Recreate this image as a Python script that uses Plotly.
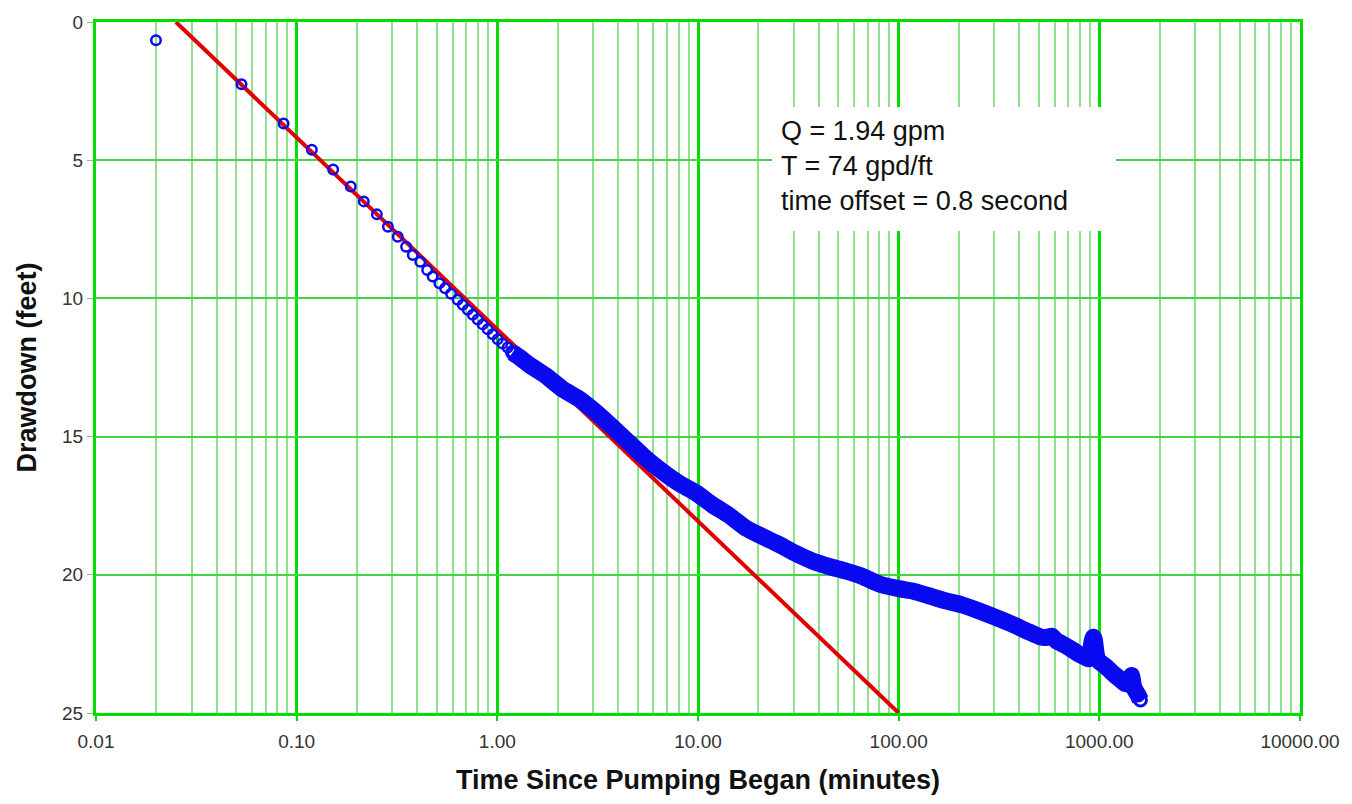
import plotly.graph_objects as go

# ---- data ----
early_time = [0.0199, 0.0531, 0.0861, 0.119, 0.152, 0.186, 0.216, 0.251, 0.285, 0.319,
              0.351, 0.379, 0.413, 0.447, 0.476, 0.514, 0.549, 0.588, 0.634, 0.672,
              0.712, 0.754, 0.798, 0.845, 0.895, 0.948, 1.004, 1.06, 1.125, 1.19]
early_drawdown = [0.66, 2.25, 3.67, 4.62, 5.34, 5.95, 6.49, 6.96, 7.41, 7.77,
                  8.13, 8.43, 8.67, 8.97, 9.21, 9.45, 9.63, 9.83, 10.05, 10.23,
                  10.41, 10.59, 10.76, 10.94, 11.12, 11.30, 11.48, 11.63, 11.78, 11.96]

dense_time = [1.19, 1.30, 1.44, 1.75, 2.11, 2.56, 3.10, 3.75, 4.5, 5.5, 6.6,
              8.04, 9.8, 11.8, 14.3, 17.3, 21.0, 25.3, 30.5, 37.1, 45.0, 54.3, 66.0,
              80.6, 100, 116, 140, 171, 205, 250, 300, 366, 440, 510, 550, 579, 610,
              700, 787, 850, 882, 905, 920, 933, 945, 958, 970, 990, 1007, 1070, 1151,
              1240, 1343, 1400, 1430, 1448, 1462, 1480, 1506, 1560, 1603]
dense_drawdown = [11.96, 12.15, 12.40, 12.80, 13.28, 13.64, 14.12, 14.66,
                  15.20, 15.79, 16.25, 16.69, 17.04, 17.47, 17.85, 18.31, 18.62, 18.90,
                  19.22, 19.50, 19.70, 19.86, 20.06, 20.34, 20.50, 20.58, 20.75, 20.94,
                  21.08, 21.30, 21.52, 21.78, 22.05, 22.25, 22.26, 22.22, 22.38, 22.62,
                  22.86, 22.98, 23.04, 22.80, 22.40, 22.26, 22.35, 22.70, 22.95, 23.10,
                  23.16, 23.30, 23.52, 23.72, 23.93, 23.95, 23.75, 23.64, 23.80, 24.05,
                  24.17, 24.35, 24.53]

fit_time = [0.025, 100]
fit_drawdown = [0, 25]

x_tick_vals = [0.01, 0.1, 1, 10, 100, 1000, 10000]
x_tick_text = ["0.01", "0.10", "1.00", "10.00", "100.00", "1000.00", "10000.00"]
y_tick_vals = [0, 5, 10, 15, 20, 25]
y_tick_text = ["0", "5", "10", "15", "20", "25"]

annotation_lines = ["Q = 1.94 gpm", "T = 74 gpd/ft", "time offset = 0.8 second"]

BLUE = "#0a0af0"
RED = "#e00000"
GREEN_MAJOR = "#00dd00"
GREEN_MINOR = "#8fe08f"
GREEN_H = "#44d444"

fig = go.Figure()

fig.add_trace(go.Scatter(
    x=fit_time, y=fit_drawdown, mode="lines",
    line=dict(color=RED, width=4), showlegend=False))
fig.add_trace(go.Scatter(
    x=dense_time, y=dense_drawdown, mode="lines",
    line=dict(color=BLUE, width=17, shape="spline", smoothing=0.4),
    hoverinfo="skip", showlegend=False))
fig.add_trace(go.Scatter(
    x=dense_time, y=dense_drawdown, mode="markers",
    marker=dict(symbol="circle-open", size=12, color=BLUE, line=dict(width=3, color=BLUE)),
    showlegend=False))
fig.add_trace(go.Scatter(
    x=early_time, y=early_drawdown, mode="markers",
    marker=dict(symbol="circle-open", size=9.5, color=BLUE, line=dict(width=2.5, color=BLUE)),
    showlegend=False))

fig.update_layout(
    width=1352, height=804,
    margin=dict(l=96, r=50, t=17, b=91),
    paper_bgcolor="white", plot_bgcolor="white",
    font=dict(family="Liberation Sans, Arial, sans-serif", color="#333333"),
)

fig.update_xaxes(
    type="log", range=[-2, 4],
    tickmode="array", tickvals=x_tick_vals, ticktext=x_tick_text,
    tickfont=dict(size=19, color="#333333"),
    ticklabelstandoff=4,
    showgrid=True, gridcolor=GREEN_MAJOR, gridwidth=3,
    minor=dict(dtick="D1", showgrid=True, gridcolor=GREEN_MINOR, gridwidth=1.5, ticks=""),
    ticks="outside", ticklen=5, tickcolor=GREEN_MAJOR, tickwidth=2,
    showline=True, linecolor=GREEN_MAJOR, linewidth=3, mirror=True,
    zeroline=False,
    title=dict(text="<b>Time Since Pumping Began (minutes)</b>",
               font=dict(size=27, color="#111111"), standoff=20),
)
fig.update_yaxes(
    range=[25, 0],
    tickmode="array", tickvals=y_tick_vals, ticktext=y_tick_text,
    tickfont=dict(size=19, color="#333333"),
    showgrid=True, gridcolor=GREEN_H, gridwidth=2,
    ticks="outside", ticklen=6, tickcolor="#88bb88", tickwidth=1,
    showline=True, linecolor=GREEN_MAJOR, linewidth=3, mirror=True,
    zeroline=False,
    title=dict(text="<b>Drawdown (feet)</b>",
               font=dict(size=27, color="#111111"), standoff=18),
)

fig.add_annotation(
    xref="paper", yref="paper",
    x=(773 - 96) / 1206, y=1 - (103 - 17) / 696,
    xanchor="left", yanchor="top",
    text="<br>".join(annotation_lines),
    align="left", valign="top",
    showarrow=False,
    font=dict(size=27, color="#111111", family="Liberation Sans, Arial, sans-serif"),
    bgcolor="white", borderpad=9, borderwidth=0,
    width=326, height=106,
)

fig.write_html("out.html")
